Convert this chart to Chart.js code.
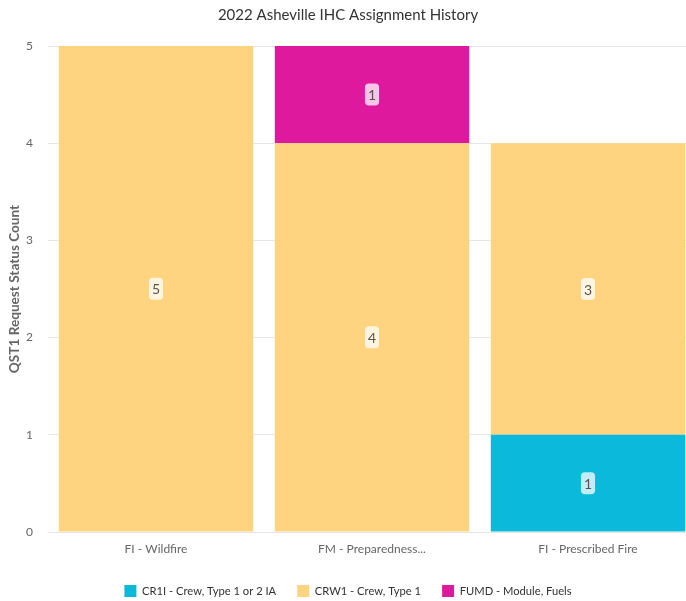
<!DOCTYPE html>
<html>
<head>
<meta charset="utf-8">
<script src="https://cdn.jsdelivr.net/npm/chart.js@4"></script>
<style>
  html, body { margin: 0; padding: 0; background: #fff; overflow: hidden; }
  #wrap { width: 696px; height: 601px; }
</style>
</head>
<body>
<div id="wrap"><canvas id="myChart" width="696" height="601"></canvas></div>
<script>
// values
const categories = ['FI - Wildfire', 'FM - Preparedness...', 'FI - Prescribed Fire'];
const seriesNames = ['CR1I - Crew, Type 1 or 2 IA', 'CRW1 - Crew, Type 1', 'FUMD - Module, Fuels'];
const cr1iValues = [0, 0, 1];
const crw1Values = [5, 4, 3];
const fumdValues = [0, 1, 0];
const yTicks = [0, 1, 2, 3, 4, 5];

const colors = ['#0bb9db', '#fed480', '#de199e'];

// little white boxes with the count in the middle of each bar
const barLabels = {
  id: 'barLabels',
  afterDatasetsDraw(chart) {
    const ctx = chart.ctx;
    ctx.save();
    ctx.font = '14px Lato';
    ctx.textAlign = 'center';
    ctx.textBaseline = 'middle';
    chart.data.datasets.forEach(function(ds, i) {
      const meta = chart.getDatasetMeta(i);
      meta.data.forEach(function(bar, j) {
        const v = ds.data[j];
        if (!v) return;
        const x = bar.x;
        const y = (bar.y + bar.base) / 2;
        const w = ctx.measureText(String(v)).width + 6;
        const h = 22;
        ctx.fillStyle = 'rgba(255,255,255,0.75)';
        ctx.beginPath();
        ctx.roundRect(x - w / 2, y - h / 2, w, h, 4);
        ctx.fill();
        ctx.fillStyle = '#555';
        ctx.fillText(String(v), x, y + 1);
      });
    });
    ctx.restore();
  }
};

const ctx = document.getElementById('myChart').getContext('2d');
const myChart = new Chart(ctx, {
  type: 'bar',
  data: {
    labels: categories,
    datasets: [
      { label: seriesNames[0], data: cr1iValues, backgroundColor: colors[0] },
      { label: seriesNames[1], data: crw1Values, backgroundColor: colors[1] },
      { label: seriesNames[2], data: fumdValues, backgroundColor: colors[2] }
    ]
  },
  options: {
    responsive: false,
    animation: false,
    layout: { padding: { top: 0, left: 0, right: 0, bottom: -6 } },
    datasets: { bar: { categoryPercentage: 0.9, barPercentage: 1 } },
    plugins: {
      title: {
        display: true,
        text: '2022 Asheville IHC Assignment History',
        color: '#333',
        font: { family: 'Lato', size: 15, weight: 'normal' },
        padding: { top: 6, bottom: 22 }
      },
      legend: {
        position: 'bottom',
        labels: {
          color: '#333',
          font: { family: 'Lato', size: 11.2 },
          boxWidth: 12,
          boxHeight: 12,
          padding: 21
        }
      },
      tooltip: { enabled: false }
    },
    scales: {
      x: {
        stacked: true,
        grid: { display: false },
        border: { color: '#e6e6e6' },
        ticks: { color: '#666', font: { family: 'Lato', size: 12 }, padding: 2 },
        afterFit(axis) { axis.height = 32; }
      },
      y: {
        stacked: true,
        min: 0,
        max: 5,
        afterBuildTicks(axis) { axis.ticks = yTicks.map(v => ({ value: v })); },
        afterFit(axis) { axis.width = 48; },
        grid: { color: '#e6e6e6', drawTicks: false },
        border: { display: false },
        ticks: { color: '#666', font: { family: 'Lato', size: 12 }, padding: 15 },
        title: {
          display: true,
          text: 'QST1 Request Status Count',
          color: '#666',
          font: { family: 'Lato', size: 13.6, weight: 'bold' },
          padding: { top: 6, bottom: 0 }
        }
      }
    }
  },
  plugins: [barLabels]
});
</script>
</body>
</html>
